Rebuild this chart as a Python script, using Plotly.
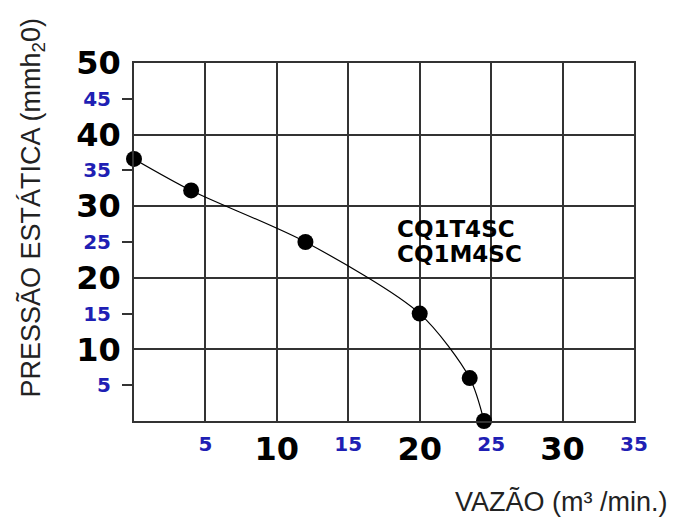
import plotly.graph_objects as go

# Data
vazao = [0, 4, 12, 20, 23.5, 24.5]
pressao = [36.6, 32.2, 25, 15, 6, 0]

x_major_vals = [10, 20, 30]
x_major_text = ["10", "20", "30"]
x_minor_vals = [5, 15, 25, 35]
x_minor_text = ["5", "15", "25", "35"]
y_major_vals = [10, 20, 30, 40, 50]
y_major_text = ["10", "20", "30", "40", "50"]
y_minor_vals = [5, 15, 25, 35, 45]
y_minor_text = ["5", "15", "25", "35", "45"]

model_labels = ["CQ1T4SC", "CQ1M4SC"]
y_title = "PRESSÃO ESTÁTICA (mmh<sub>2</sub>0)"
x_title = "VAZÃO (m³ /min.)"

BLUE = "#1f1fb4"
NUMFONT = "DejaVu Sans"
TXTFONT = "Liberation Sans, Arial, sans-serif"

fig = go.Figure()
fig.add_trace(go.Scatter(
    x=vazao, y=pressao, mode="lines+markers",
    line=dict(color="black", width=1.2, shape="spline", smoothing=0.8),
    marker=dict(color="black", size=16),
    showlegend=False, hoverinfo="skip", cliponaxis=False,
))
# invisible trace to activate the overlay axes
fig.add_trace(go.Scatter(x=[None], y=[None], xaxis="x2", yaxis="y2",
                         showlegend=False, hoverinfo="skip"))

fig.update_layout(
    width=679, height=522,
    margin=dict(l=126, r=53, t=55, b=109, autoexpand=False),
    paper_bgcolor="white", plot_bgcolor="white",
    xaxis=dict(
        range=[0, 35], tickmode="array", tickvals=x_major_vals, ticktext=x_major_text,
        tickfont=dict(family=NUMFONT, size=32, color="black", weight="bold"),
        showgrid=True, gridcolor="#333", gridwidth=1.5,
        showline=True, linecolor="#333", linewidth=1.5, mirror=True,
        ticks="", ticklabelstandoff=-1, zeroline=False, automargin=False,
    ),
    xaxis2=dict(
        range=[0, 35], overlaying="x", anchor="y", side="bottom",
        tickmode="array", tickvals=x_minor_vals, ticktext=x_minor_text,
        tickfont=dict(family=NUMFONT, size=20, color=BLUE, weight="bold"),
        showgrid=True, gridcolor="#333", gridwidth=1.5,
        showline=False, ticks="", ticklabelstandoff=9, zeroline=False,
        automargin=False,
    ),
    yaxis=dict(
        range=[0, 50], tickmode="array", tickvals=y_major_vals, ticktext=y_major_text,
        tickfont=dict(family=NUMFONT, size=32, color="black", weight="bold"),
        showgrid=True, gridcolor="#333", gridwidth=1.5,
        showline=True, linecolor="#333", linewidth=1.5, mirror=True,
        ticks="", ticklabelstandoff=5, zeroline=False, automargin=False,
    ),
    yaxis2=dict(
        range=[0, 50], overlaying="y", anchor="x", side="left",
        tickmode="array", tickvals=y_minor_vals, ticktext=y_minor_text,
        tickfont=dict(family=NUMFONT, size=20, color=BLUE, weight="bold"),
        showgrid=False, showline=False,
        ticks="outside", ticklen=11, tickcolor="#333", tickwidth=1.5,
        ticklabelstandoff=7, zeroline=False, automargin=False,
    ),
    annotations=[
        dict(text=model_labels[0], x=18.3, y=26.8, xref="x", yref="y",
             xanchor="left", yanchor="middle", showarrow=False,
             font=dict(family=NUMFONT, size=23, color="black", weight="bold")),
        dict(text=model_labels[1], x=18.3, y=23.3, xref="x", yref="y",
             xanchor="left", yanchor="middle", showarrow=False,
             font=dict(family=NUMFONT, size=23, color="black", weight="bold")),
        dict(text=y_title, x=-0.203, y=0.595, xref="paper", yref="paper",
             xanchor="center", yanchor="middle",
             textangle=-90, showarrow=False,
             font=dict(family=TXTFONT, size=27, color="#222")),
        dict(text=x_title, x=0.854, y=-0.224, xref="paper", yref="paper",
             xanchor="center", yanchor="middle",
             showarrow=False,
             font=dict(family=TXTFONT, size=27, color="#222")),
    ],
)

fig.write_html("out.html")
